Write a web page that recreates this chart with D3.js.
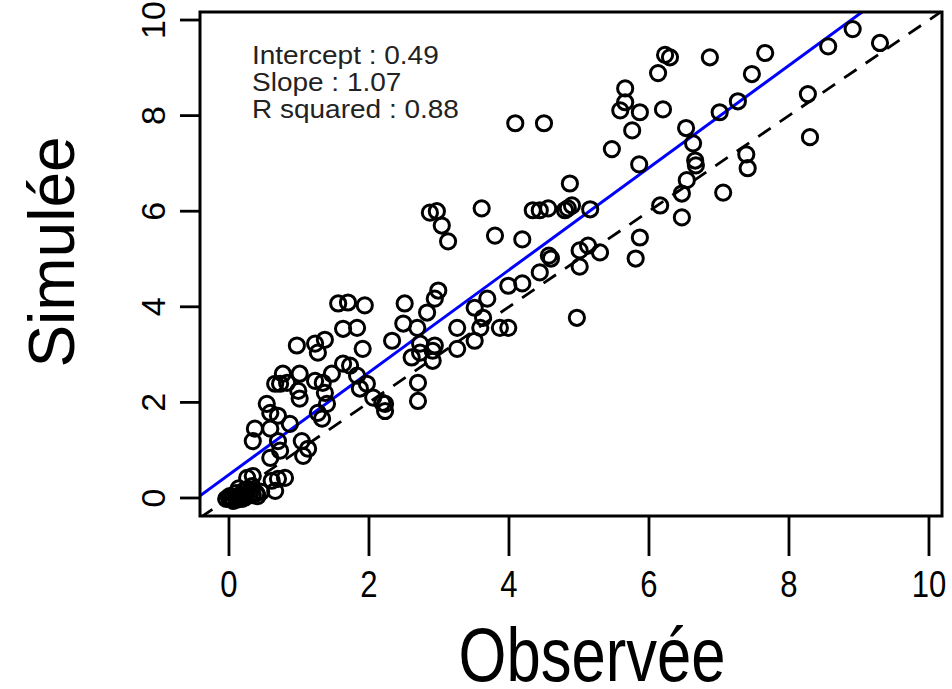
<!DOCTYPE html>
<html>
<head>
<meta charset="utf-8">
<script src="https://cdn.jsdelivr.net/npm/d3@7"></script>
<style>
  body { margin: 0; background: #fff; }
  svg { font-family: "Liberation Sans", Arial, sans-serif; }
</style>
</head>
<body>
<svg id="chart" width="952" height="689"></svg>
<script>
// observed values (x axis)
const observed = [
  4.09, 4.50, 6.23, 6.30, 6.87, 7.66, 6.13, 7.47, 8.91, 8.56, 9.30, 5.66, 5.66, 5.59, 5.87, 6.20,
  7.27, 7.01, 5.76, 6.53, 6.63, 5.47, 6.66, 6.67, 5.86, 7.39, 7.41, 8.27, 8.30, 4.87, 4.84, 5.16,
  5.13, 5.01, 5.30, 6.16, 6.47, 6.54, 6.47, 7.06, 5.87, 5.81, 4.97, 4.34, 4.44, 4.56, 4.90, 4.80,
  4.57, 4.60, 4.44, 4.19, 3.99, 5.01, 2.87, 2.97, 3.04, 3.13, 3.61, 3.80, 4.19, 1.56, 1.70, 1.94,
  1.63, 1.83, 0.97, 1.23, 1.37, 1.91, 2.33, 2.51, 2.49, 2.69, 2.99, 2.94, 2.83, 2.94, 3.51, 2.73,
  3.69, 3.51, 3.63, 3.59, 3.87, 3.99, 3.26, 2.61, 2.73, 2.91, 2.91, 3.26, 2.70, 2.70, 2.23, 2.23,
  1.27, 1.63, 1.73, 1.47, 1.23, 1.01, 0.77, 0.66, 0.73, 0.83, 0.99, 1.01, 1.34, 1.37, 1.40, 1.83,
  1.87, 1.97, 2.06, 2.19, 0.54, 0.59, 0.70, 0.87, 0.37, 0.34, 0.59, 0.70, 0.73, 1.04, 1.13, 1.06,
  0.59, 1.27, 1.33, 0.80, 0.70, 0.61, 0.66, 0.26, 0.34,
  0.00, 0.04, 0.09, 0.13, 0.16, 0.20, 0.24, 0.30, 0.34, 0.39, 0.41, 0.46, 0.10, 0.21, 0.27, 0.01,
  0.06, 0.11, 0.19, -0.04, 0.14, 0.33
];
// simulated values (y axis)
const simulated = [
  7.84, 7.84, 9.27, 9.22, 9.22, 9.31, 8.89, 8.87, 9.81, 9.45, 9.52, 8.57, 8.28, 8.11, 8.07, 8.13,
  8.30, 8.07, 7.69, 7.74, 7.42, 7.30, 7.06, 6.96, 6.98, 7.19, 6.90, 8.45, 7.55, 6.58, 6.06, 6.04,
  5.28, 5.18, 5.14, 6.12, 5.87, 6.65, 6.37, 6.39, 5.45, 5.01, 3.77, 6.02, 6.02, 6.06, 6.12, 6.02,
  5.07, 5.01, 4.72, 4.49, 4.44, 4.84, 5.97, 6.00, 5.70, 5.37, 6.06, 5.49, 5.41, 4.07, 4.09, 4.03,
  3.54, 3.56, 3.19, 3.23, 3.31, 3.12, 3.29, 4.07, 3.65, 3.56, 4.34, 4.17, 3.88, 3.19, 3.29, 3.23,
  4.17, 3.98, 3.77, 3.56, 3.56, 3.56, 3.56, 2.94, 3.04, 2.87, 3.08, 3.12, 2.41, 2.03, 1.97, 1.82,
  3.04, 2.81, 2.77, 2.60, 2.45, 2.60, 2.60, 2.39, 2.39, 2.41, 2.24, 2.08, 2.41, 2.20, 1.97, 2.56,
  2.29, 2.39, 2.10, 1.99, 1.97, 1.78, 1.72, 1.55, 1.45, 1.19, 1.45, 1.19, 0.99, 1.19, 1.03, 0.88,
  0.84, 1.78, 1.66, 0.42, 0.40, 0.36, 0.15, 0.42, 0.46,
  0.00, 0.00, 0.02, 0.04, 0.00, 0.06, 0.02, 0.08, 0.06, 0.10, 0.04, 0.13, 0.10, 0.15, 0.19, 0.04,
  -0.06, -0.04, -0.02, -0.02, 0.20, 0.25
];

const xTicks = [0, 2, 4, 6, 8, 10];
const yTicks = [0, 2, 4, 6, 8, 10];
const fitIntercept = 0.49;
const fitSlope = 1.07;
const statLabels = ["Intercept : 0.49", "Slope : 1.07", "R squared : 0.88"];

const margin = { top: 12, right: 10, bottom: 173, left: 200 };
const width = 952 - margin.left - margin.right;   // 742
const height = 689 - margin.top - margin.bottom;  // 504

const svg = d3.select("#chart");

const x = d3.scaleLinear().domain([-0.414, 10.186]).range([0, width]);
const y = d3.scaleLinear().domain([-0.377, 10.168]).range([height, 0]);

const g = svg.append("g").attr("transform", `translate(${margin.left},${margin.top})`);

g.append("defs").append("clipPath").attr("id", "plotClip")
  .append("rect").attr("width", width).attr("height", height);

// 1:1 line (dashed)
const lineG = g.append("g").attr("clip-path", "url(#plotClip)");
const xd = x.domain();
lineG.append("line")
  .attr("x1", x(xd[0])).attr("y1", y(xd[0]))
  .attr("x2", x(xd[1])).attr("y2", y(xd[1]))
  .attr("stroke", "#000").attr("stroke-width", 2.8)
  .attr("stroke-dasharray", "15,11");

// regression line
lineG.append("line")
  .attr("x1", x(xd[0])).attr("y1", y(fitIntercept + fitSlope * xd[0]))
  .attr("x2", x(xd[1])).attr("y2", y(fitIntercept + fitSlope * xd[1]))
  .attr("stroke", "#0000ff").attr("stroke-width", 3);

// points
g.append("g").selectAll("circle")
  .data(d3.range(observed.length))
  .join("circle")
  .attr("cx", i => x(observed[i]))
  .attr("cy", i => y(simulated[i]))
  .attr("r", 7.6)
  .attr("fill", "none")
  .attr("stroke", "#000")
  .attr("stroke-width", 3);

// box
g.append("rect")
  .attr("width", width).attr("height", height)
  .attr("fill", "none").attr("stroke", "#000").attr("stroke-width", 3);

// x axis
const xAxisG = g.append("g").attr("transform", `translate(0,${height})`);
xAxisG.selectAll("line").data(xTicks).join("line")
  .attr("x1", d => x(d)).attr("x2", d => x(d))
  .attr("y1", 0).attr("y2", 40)
  .attr("stroke", "#000").attr("stroke-width", 2.8);
xAxisG.selectAll("text").data(xTicks).join("text")
  .attr("transform", d => `translate(${x(d)},81) scale(0.84,1)`)
  .attr("text-anchor", "middle")
  .attr("font-size", 37)
  .text(d => d);

// y axis
const yAxisG = g.append("g");
yAxisG.selectAll("line").data(yTicks).join("line")
  .attr("x1", -20).attr("x2", 0)
  .attr("y1", d => y(d)).attr("y2", d => y(d))
  .attr("stroke", "#000").attr("stroke-width", 2.8);
yAxisG.selectAll("text").data(yTicks).join("text")
  .attr("transform", d => `translate(-35,${y(d)}) rotate(-90)`)
  .attr("text-anchor", "middle")
  .attr("font-size", 34)
  .text(d => d);

// axis titles
svg.append("text")
  .attr("transform", `translate(592,681) scale(0.81,1)`)
  .attr("text-anchor", "middle")
  .attr("font-size", 76)
  .text("Observée");

svg.append("text")
  .attr("transform", `translate(74,252) rotate(-90)`)
  .attr("text-anchor", "middle")
  .attr("font-size", 64)
  .text("Simulée");

// fit statistics
g.append("g").selectAll("text").data(statLabels).join("text")
  .attr("transform", (d, i) => `translate(52,${52 + i * 27}) scale(1.12,1)`)
  .attr("font-size", 25)
  .attr("fill", "#222")
  .text(d => d);
</script>
</body>
</html>
